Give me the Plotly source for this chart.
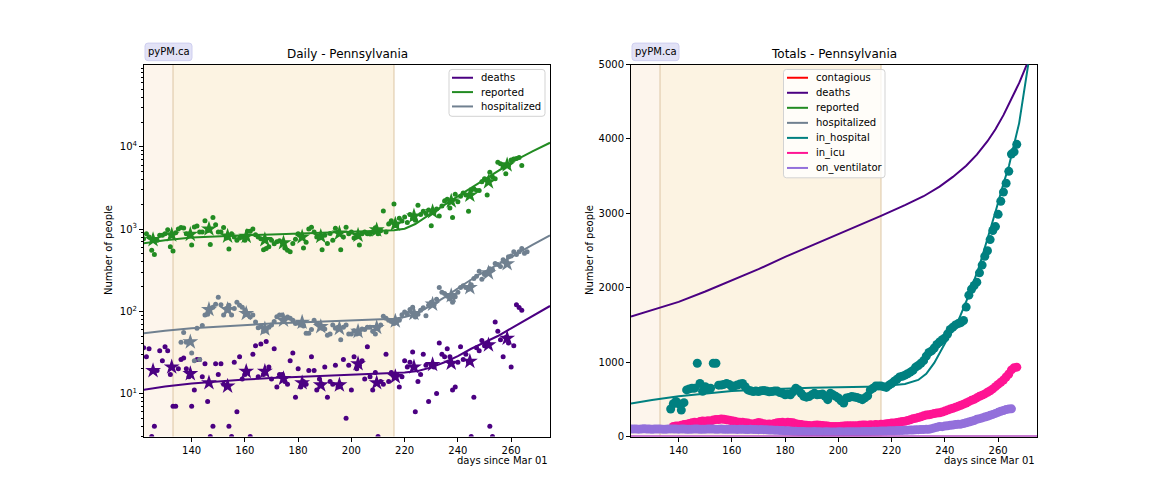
import plotly.graph_objects as go

FONT = "DejaVu Sans"
C_DEATH = "#4B0082"
C_REP = "#228B22"
C_HOSP = "#708090"
C_INH = "#008080"
C_ICU = "#FF1493"
C_VENT = "#9370DB"
C_CONT = "#FF0000"

W, H = 1152, 504

# ---------------- Daily panel data ----------------
deaths_start = 122
deaths_daily = [36, 28, 35, 3, 4, 19, 33, 25, 37, 33,
                17, 7, 7, 20, 26, 27, 20, 16, 7, 11,
                26, 26, 16, 23, 8, 3, 4, 23, 17, 23,
                13, 12, 4, 3, 24, 6, 28, 15, 17, 18,
                3, 30, 38, 16, 40, 17, 43, 21, 15, 35,
                12, 17, 17, 14, 13, 25, 31, 9, 20, 12,
                14, 13, 19, 28, 19, 11, 15, 13, 21, 9,
                14, 13, 22, 12, 13, 26, 5, 22, 11, 28,
                20, 22, 25, 15, 37, 16, 11, 18, 3, 14,
                13, 30, 14, 18, 16, 17, 12, 16, 25, 21,
                24, 32, 6, 14, 17, 30, 22, 8, 22, 21,
                10, 41, 30, 28, 35, 28, 11, 12, 24, 37,
                26, 30, 24, 3, 9, 36, 33, 44, 38, 40,
                4, 3, 74, 57, 45, 28, 48, 41, 21, 38,
                120, 111, 103]

reported_start = 122
reported_daily = [760, 874, 800, 554, 490, 730, 840, 840, 874, 980,
                  610, 540, 900, 1000, 1047, 1030, 874, 870, 640, 1060,
                  1090, 920, 920, 1260, 960, 650, 1380, 1130, 920, 920,
                  1047, 780, 570, 874, 800, 730, 780, 800, 730, 940,
                  940, 1000, 850, 800, 760, 560, 580, 610, 730, 660,
                  700, 720, 690, 590, 554, 530, 665, 750, 874, 840,
                  590, 690, 1000, 1050, 920, 800, 780, 560, 840, 665,
                  880, 730, 1020, 920, 560, 800, 1050, 874, 920, 780,
                  800, 640, 874, 920, 874, 870, 920, 1040, 874, 950,
                  1660, 920, 1150, 1260, 2020, 1100, 1350, 1250, 1400, 1200,
                  1500, 1350, 1280, 1950, 1500, 1650, 1550, 1700, 1100, 1600,
                  1750, 1440, 1900, 2200, 2300, 1800, 1380, 2650, 2150, 2500,
                  2750, 2600, 1650, 2950, 3100, 2950, 2950, 3750, 4100, 2600,
                  4900, 4300, 4100, 6480, 6200, 5650, 4700, 5900, 6900, 7100,
                  7200, 7400, 5920]

hosp_start = 136
hosp_daily = [42, 55, 42, 43, 31, 25, 62, 26, 67, 90,
              92, 108, 112, 122, 148, 120, 90, 108, 118, 90,
              108, 129, 118, 112, 103, 92, 85, 90, 74, 63,
              66, 57, 59, 64, 68, 75, 86, 90, 90, 82,
              85, 82, 78, 71, 72, 68, 66, 54, 54, 60,
              78, 71, 68, 62, 61, 51, 53, 68, 62, 64,
              45, 64, 68, 53, 53, 58, 53, 54, 61, 60,
              64, 64, 57, 53, 62, 68, 87, 82, 78, 75,
              71, 75, 78, 91, 98, 92, 105, 112, 85, 92,
              103, 110, 88, 118, 129, 118, 140, 195, 170, 165,
              152, 141, 129, 150, 170, 195, 205, 195, 185, 210,
              250, 267, 306, 245, 280, 290, 330, 320, 380, 370,
              351, 422, 400, 460, 470, 530, 490, 530, 580, 506,
              530]

# weekly averages (stars)
deaths_star_days = [125.5 + 7 * k for k in range(20)]
deaths_weekly = [19, 21, 17.4, 13.5, 12.3, 18.6, 18.6, 15.2, 13.5, 12.7,
                 12.7, 23, 13.5, 16, 21, 22.5, 23.3, 24.6, 39, 47]
reported_star_days = [125.5 + 7 * k for k in range(20)]
reported_weekly = [742, 850, 862, 1000, 820, 815, 742, 680, 800, 815,
                   890, 840, 975, 1145, 1440, 1625, 2190, 2570, 3750, 6020]
hosp_star_days = [139.5 + 7 * k for k in range(18)]
hosp_weekly = [42.5, 105, 105, 94, 61, 78, 73.5, 65, 62, 57,
               63.5, 76, 94, 122, 155, 194, 293, 378]

# model curves (daily panel)
model_days_deaths = [122, 130, 140, 150, 160, 170, 180, 190, 200, 210, 216, 220,
                     225, 230, 235, 240, 245, 250, 255, 260, 265, 270, 274.6]
model_deaths_daily = [11.1, 12.2, 13.2, 14.0, 14.8, 15.4, 15.9, 16.4, 16.8, 17.2, 17.6, 18.0,
                      18.8, 20.8, 24, 28.5, 35, 42, 50, 62, 77, 95, 116]
model_days_rep = [122, 130, 140, 150, 160, 170, 180, 190, 200, 210, 216, 220,
                  224, 230, 236, 242, 248, 255, 261, 268, 274.6]
model_rep_daily = [670, 730, 790, 820, 840, 860, 880, 900, 920, 950, 965, 1010,
                   1150, 1550, 2080, 2750, 3650, 5000, 6700, 8800, 11200]
model_days_hosp = [122, 130, 140, 150, 160, 170, 180, 190, 200, 210, 216, 220,
                   224, 230, 236, 242, 248, 255, 261, 268, 274.6]
model_hosp_daily = [54, 58, 62, 65, 68, 71, 73, 75, 77, 79, 81, 85,
                    92, 118, 155, 210, 280, 370, 480, 640, 835]

# ---------------- Totals panel data ----------------
inh_start = 137
in_hospital = [370, 440, 470, 440, 355, 455, 626, 640, 648, 650,
               985, 713, 608, 669, 640, 648, 985, 985, 690, 691,
               700, 713, 700, 669, 680, 691, 705, 713, 669, 626,
               615, 604, 610, 604, 615, 617, 612, 600, 604, 610,
               612, 590, 582, 560, 570, 560, 600, 648, 626, 580,
               540, 529, 538, 560, 582, 560, 565, 573, 540, 495,
               582, 560, 540, 517, 480, 451, 517, 525, 538, 530,
               525, 510, 495, 520, 547, 626, 650, 678, 680, 678,
               670, 660, 690, 713, 744, 770, 801, 810, 825, 844,
               865, 888, 932, 955, 985, 1020, 1080, 1130, 1151, 1190,
               1238, 1270, 1300, 1325, 1378, 1440, 1470, 1500, 1518, 1530,
               1560, 1740, 1900, 1980, 2030, 2075, 2200, 2304, 2422, 2497,
               2647, 2769, 2822, 2987, 3163, 3286, 3404, 3565, 3797, 3827,
               3928]

icu_start = 138
in_icu = [135, 140, 140, 150, 160, 166, 175, 185, 190, 188,
          200, 210, 205, 212, 208, 222, 230, 228, 235, 232,
          225, 220, 212, 205, 195, 190, 192, 186, 180, 170,
          168, 178, 188, 180, 170, 165, 168, 166, 175, 185,
          188, 190, 186, 190, 188, 185, 172, 166, 160, 156,
          152, 148, 145, 150, 155, 152, 147, 144, 140, 136,
          135, 133, 135, 138, 142, 145, 143, 145, 143, 146,
          150, 153, 155, 152, 157, 155, 160, 158, 163, 166,
          170, 175, 180, 183, 188, 195, 200, 205, 215, 225,
          238, 245, 254, 265, 278, 288, 292, 300, 308, 315,
          320, 330, 342, 355, 368, 380, 392, 405, 420, 435,
          450, 468, 486, 500, 520, 540, 556, 573, 595, 615,
          640, 670, 700, 730, 760, 800, 840, 895, 925, 932]

vent_start = 122
on_ventilator = [100, 102, 101, 99, 100, 103, 101, 100, 98, 100,
                 101, 100, 99, 98, 100, 102, 101, 100, 99, 101,
                 100, 98, 97, 99, 101, 100, 98, 97, 99, 100,
                 101, 100, 98, 99, 100, 97, 96, 98, 99, 97,
                 95, 96, 97, 95, 94, 96, 95, 93, 92, 94,
                 92, 90, 88, 86, 85, 84, 82, 80, 78, 76,
                 74, 72, 70, 68, 67, 66, 65, 64, 65, 66,
                 64, 63, 62, 63, 64, 62, 61, 62, 63, 64,
                 62, 63, 64, 65, 63, 64, 65, 66, 67, 68,
                 68, 70, 71, 72, 73, 74, 75, 76, 77, 78,
                 79, 80, 82, 84, 85, 86, 88, 90, 92, 94,
                 95, 96, 98, 105, 115, 125, 135, 132, 140, 144,
                 150, 155, 160, 163, 166, 175, 185, 195, 205, 215,
                 232, 240, 250, 262, 272, 284, 297, 310, 325, 340,
                 350, 363, 368, 372]

model_days_tot_deaths = [122.1, 130, 140, 150, 160, 170, 180, 190, 200, 210, 216, 225,
                         232, 238, 243, 248, 252, 256, 259, 262, 265, 268, 271, 272]
model_tot_deaths = [1614, 1700, 1810, 1950, 2100, 2250, 2415, 2565, 2720, 2870, 2966, 3110,
                    3230, 3360, 3490, 3640, 3790, 3970, 4130, 4320, 4530, 4760, 5020, 5110]
model_days_inh = [122.1, 130, 140, 150, 160, 170, 180, 190, 200, 210, 216, 220, 225, 230,
                  233, 236, 239, 242, 245.4, 249, 252.9, 256, 259.1, 262, 264.1, 266,
                  267.9, 271.3, 272]
model_inh = [442, 490, 540, 580, 610, 630, 645, 655, 662, 668, 672, 690, 705, 760,
             844, 990, 1194, 1380, 1588, 1900, 2287, 2650, 3031, 3400, 3644, 3930,
             4213, 5000, 5150]
model_days_flat = [122.1, 274.6]
model_icu_flat = [0, 0]
model_vent_flat = [0, 0]

left_legend = [("deaths", C_DEATH), ("reported", C_REP), ("hospitalized", C_HOSP)]
right_legend = [("contagious", C_CONT), ("deaths", C_DEATH), ("reported", C_REP),
                ("hospitalized", C_HOSP), ("in_hospital", C_INH), ("in_icu", C_ICU),
                ("on_ventilator", C_VENT)]

XR = [122.1, 274.6]
xticks = [140, 160, 180, 200, 220, 240, 260]


def days_from(start, vals):
    return list(range(start, start + len(vals)))


def px(x):
    return x / W


def py(y):
    return 1 - y / H


fig = go.Figure()

# ---- Left panel: daily ----
left_series = [
    (C_DEATH, deaths_start, deaths_daily, deaths_star_days, deaths_weekly,
     model_days_deaths, model_deaths_daily),
    (C_REP, reported_start, reported_daily, reported_star_days, reported_weekly,
     model_days_rep, model_rep_daily),
    (C_HOSP, hosp_start, hosp_daily, hosp_star_days, hosp_weekly,
     model_days_hosp, model_hosp_daily),
]
for col, st, vals, sd, sv, md, mv in left_series:
    fig.add_trace(go.Scatter(x=days_from(st, vals), y=vals, mode="markers",
                             marker=dict(color=col, size=5, line=dict(width=0)),
                             xaxis="x", yaxis="y", hoverinfo="skip"))
    fig.add_trace(go.Scatter(x=sd, y=sv, mode="markers",
                             marker=dict(color=col, size=12, symbol="star", line=dict(width=0)),
                             xaxis="x", yaxis="y", hoverinfo="skip"))
    fig.add_trace(go.Scatter(x=md, y=mv, mode="lines", line=dict(color=col, width=2),
                             xaxis="x", yaxis="y"))

# ---- Right panel: totals ----
fig.add_trace(go.Scatter(x=model_days_tot_deaths, y=model_tot_deaths, mode="lines",
                         line=dict(color=C_DEATH, width=2), xaxis="x2", yaxis="y2"))
fig.add_trace(go.Scatter(x=days_from(inh_start, in_hospital), y=in_hospital, mode="markers",
                         marker=dict(color=C_INH, size=9, line=dict(width=0)),
                         xaxis="x2", yaxis="y2", hoverinfo="skip"))
fig.add_trace(go.Scatter(x=model_days_inh, y=model_inh, mode="lines",
                         line=dict(color=C_INH, width=2), xaxis="x2", yaxis="y2"))
fig.add_trace(go.Scatter(x=days_from(icu_start, in_icu), y=in_icu, mode="markers",
                         marker=dict(color=C_ICU, size=9, line=dict(width=0)),
                         xaxis="x2", yaxis="y2", hoverinfo="skip"))
fig.add_trace(go.Scatter(x=days_from(vent_start, on_ventilator), y=on_ventilator, mode="markers",
                         marker=dict(color=C_VENT, size=9, line=dict(width=0)),
                         xaxis="x2", yaxis="y2", hoverinfo="skip"))
fig.add_trace(go.Scatter(x=model_days_flat, y=model_icu_flat, mode="lines",
                         line=dict(color=C_ICU, width=2), xaxis="x2", yaxis="y2", cliponaxis=False))
fig.add_trace(go.Scatter(x=model_days_flat, y=model_vent_flat, mode="lines",
                         line=dict(color=C_VENT, width=2), xaxis="x2", yaxis="y2", cliponaxis=False))

# shading and vertical lines
shapes = []
for xr in ("x", "x2"):
    yd = "y domain" if xr == "x" else "y2 domain"
    shapes.append(dict(type="rect", xref=xr, yref=yd, x0=XR[0], x1=133, y0=0, y1=1,
                       fillcolor="#fdf5ec", line=dict(width=0), layer="below"))
    shapes.append(dict(type="rect", xref=xr, yref=yd, x0=133, x1=216, y0=0, y1=1,
                       fillcolor="#fcf3e2", line=dict(width=0), layer="below"))
    for xv in (133, 216):
        shapes.append(dict(type="line", xref=xr, yref=yd, x0=xv, x1=xv, y0=0, y1=1,
                           line=dict(color="#dcc6a4", width=1), layer="below"))


def rounded_box(x0, y0, x1, y1, r=3):
    # pixel coords -> paper path
    pts = (f"M {px(x0 + r)} {py(y0)} L {px(x1 - r)} {py(y0)} Q {px(x1)} {py(y0)} {px(x1)} {py(y0 + r)} "
           f"L {px(x1)} {py(y1 - r)} Q {px(x1)} {py(y1)} {px(x1 - r)} {py(y1)} "
           f"L {px(x0 + r)} {py(y1)} Q {px(x0)} {py(y1)} {px(x0)} {py(y1 - r)} "
           f"L {px(x0)} {py(y0 + r)} Q {px(x0)} {py(y0)} {px(x0 + r)} {py(y0)} Z")
    return pts


ann = []


def add_legend(items, box, line_x0, line_x1, text_x, y_first, dy):
    shapes.append(dict(type="path", xref="paper", yref="paper", path=rounded_box(*box),
                       fillcolor="rgba(255,255,255,0.8)", line=dict(color="#d3d3d3", width=1),
                       layer="above"))
    for i, (name, col) in enumerate(items):
        yy = y_first + i * dy
        shapes.append(dict(type="line", xref="paper", yref="paper",
                           x0=px(line_x0), x1=px(line_x1), y0=py(yy), y1=py(yy),
                           line=dict(color=col, width=2), layer="above"))
        ann.append(dict(text=name, x=px(text_x), y=py(yy), xref="paper", yref="paper",
                        showarrow=False, xanchor="left", yanchor="middle",
                        font=dict(size=10, family=FONT, color="black")))


add_legend(left_legend, (449, 65, 545, 113), 452, 473, 479, 73.5, 14.7)
add_legend(right_legend, (783.5, 65, 885, 176), 787, 808, 814, 73.5, 15.4)

# pyPM.ca tags
for x0 in (145, 632):
    shapes.append(dict(type="path", xref="paper", yref="paper",
                       path=rounded_box(x0, 38, x0 + 47, 56, r=3),
                       fillcolor="#e2e2f6", line=dict(color="#cfcff0", width=1), layer="above"))
    ann.append(dict(text="pyPM.ca", x=px(x0 + 23.5), y=py(47), xref="paper", yref="paper",
                    showarrow=False, xanchor="center", yanchor="middle",
                    font=dict(size=10, family=FONT, color="black")))

for cx, title, lx, xr_right in ((347, "Daily - Pennsylvania", 108, 550),
                                (834, "Totals - Pennsylvania", 589, 1037)):
    ann.append(dict(text=title, x=px(cx), y=py(49), xref="paper", yref="paper", showarrow=False,
                    xanchor="center", yanchor="middle", font=dict(size=12, family=FONT, color="black")))
    ann.append(dict(text="Number of people", x=px(lx), y=py(250), xref="paper", yref="paper",
                    showarrow=False, textangle=-90, xanchor="center", yanchor="middle",
                    font=dict(size=10, family=FONT, color="black")))
    ann.append(dict(text="days since Mar 01", x=px(xr_right), y=py(466), xref="paper", yref="paper",
                    showarrow=False, xanchor="right", yanchor="middle",
                    font=dict(size=10, family=FONT, color="black")))

axis_common = dict(showline=True, mirror=True, linecolor="black", linewidth=1,
                   ticks="outside", ticklen=4, tickcolor="black", showgrid=False,
                   zeroline=False, tickfont=dict(size=10, family=FONT, color="black"))

minor_vals = [m * 10 ** e for e in range(0, 5) for m in range(2, 10)]

fig.update_layout(
    width=W, height=H,
    margin=dict(l=0, r=0, t=0, b=0),
    paper_bgcolor="white", plot_bgcolor="white",
    font=dict(family=FONT, size=10, color="black"),
    showlegend=False,
    hovermode=False,
    shapes=shapes,
    annotations=ann,
    xaxis=dict(domain=[px(144), px(550)], range=XR, anchor="y", tickvals=xticks, **axis_common),
    yaxis=dict(domain=[py(441), py(60)], type="log", range=[0.4771, 5.0], anchor="x",
               tickvals=[10, 100, 1000, 10000],
               ticktext=["10<sup>1</sup>", "10<sup>2</sup>", "10<sup>3</sup>", "10<sup>4</sup>"],
               minor=dict(ticks="outside", ticklen=2, tickcolor="black", tickvals=minor_vals),
               **axis_common),
    xaxis2=dict(domain=[px(631), px(1037)], range=XR, anchor="y2", tickvals=xticks,
                layer="below traces", **axis_common),
    yaxis2=dict(domain=[py(441), py(60)], range=[0, 5000], anchor="x2",
                tickvals=[0, 1000, 2000, 3000, 4000, 5000], **axis_common),
)

fig.write_html("out.html", config={"displayModeBar": False},
               post_script="document.body.style.margin='0px';")
